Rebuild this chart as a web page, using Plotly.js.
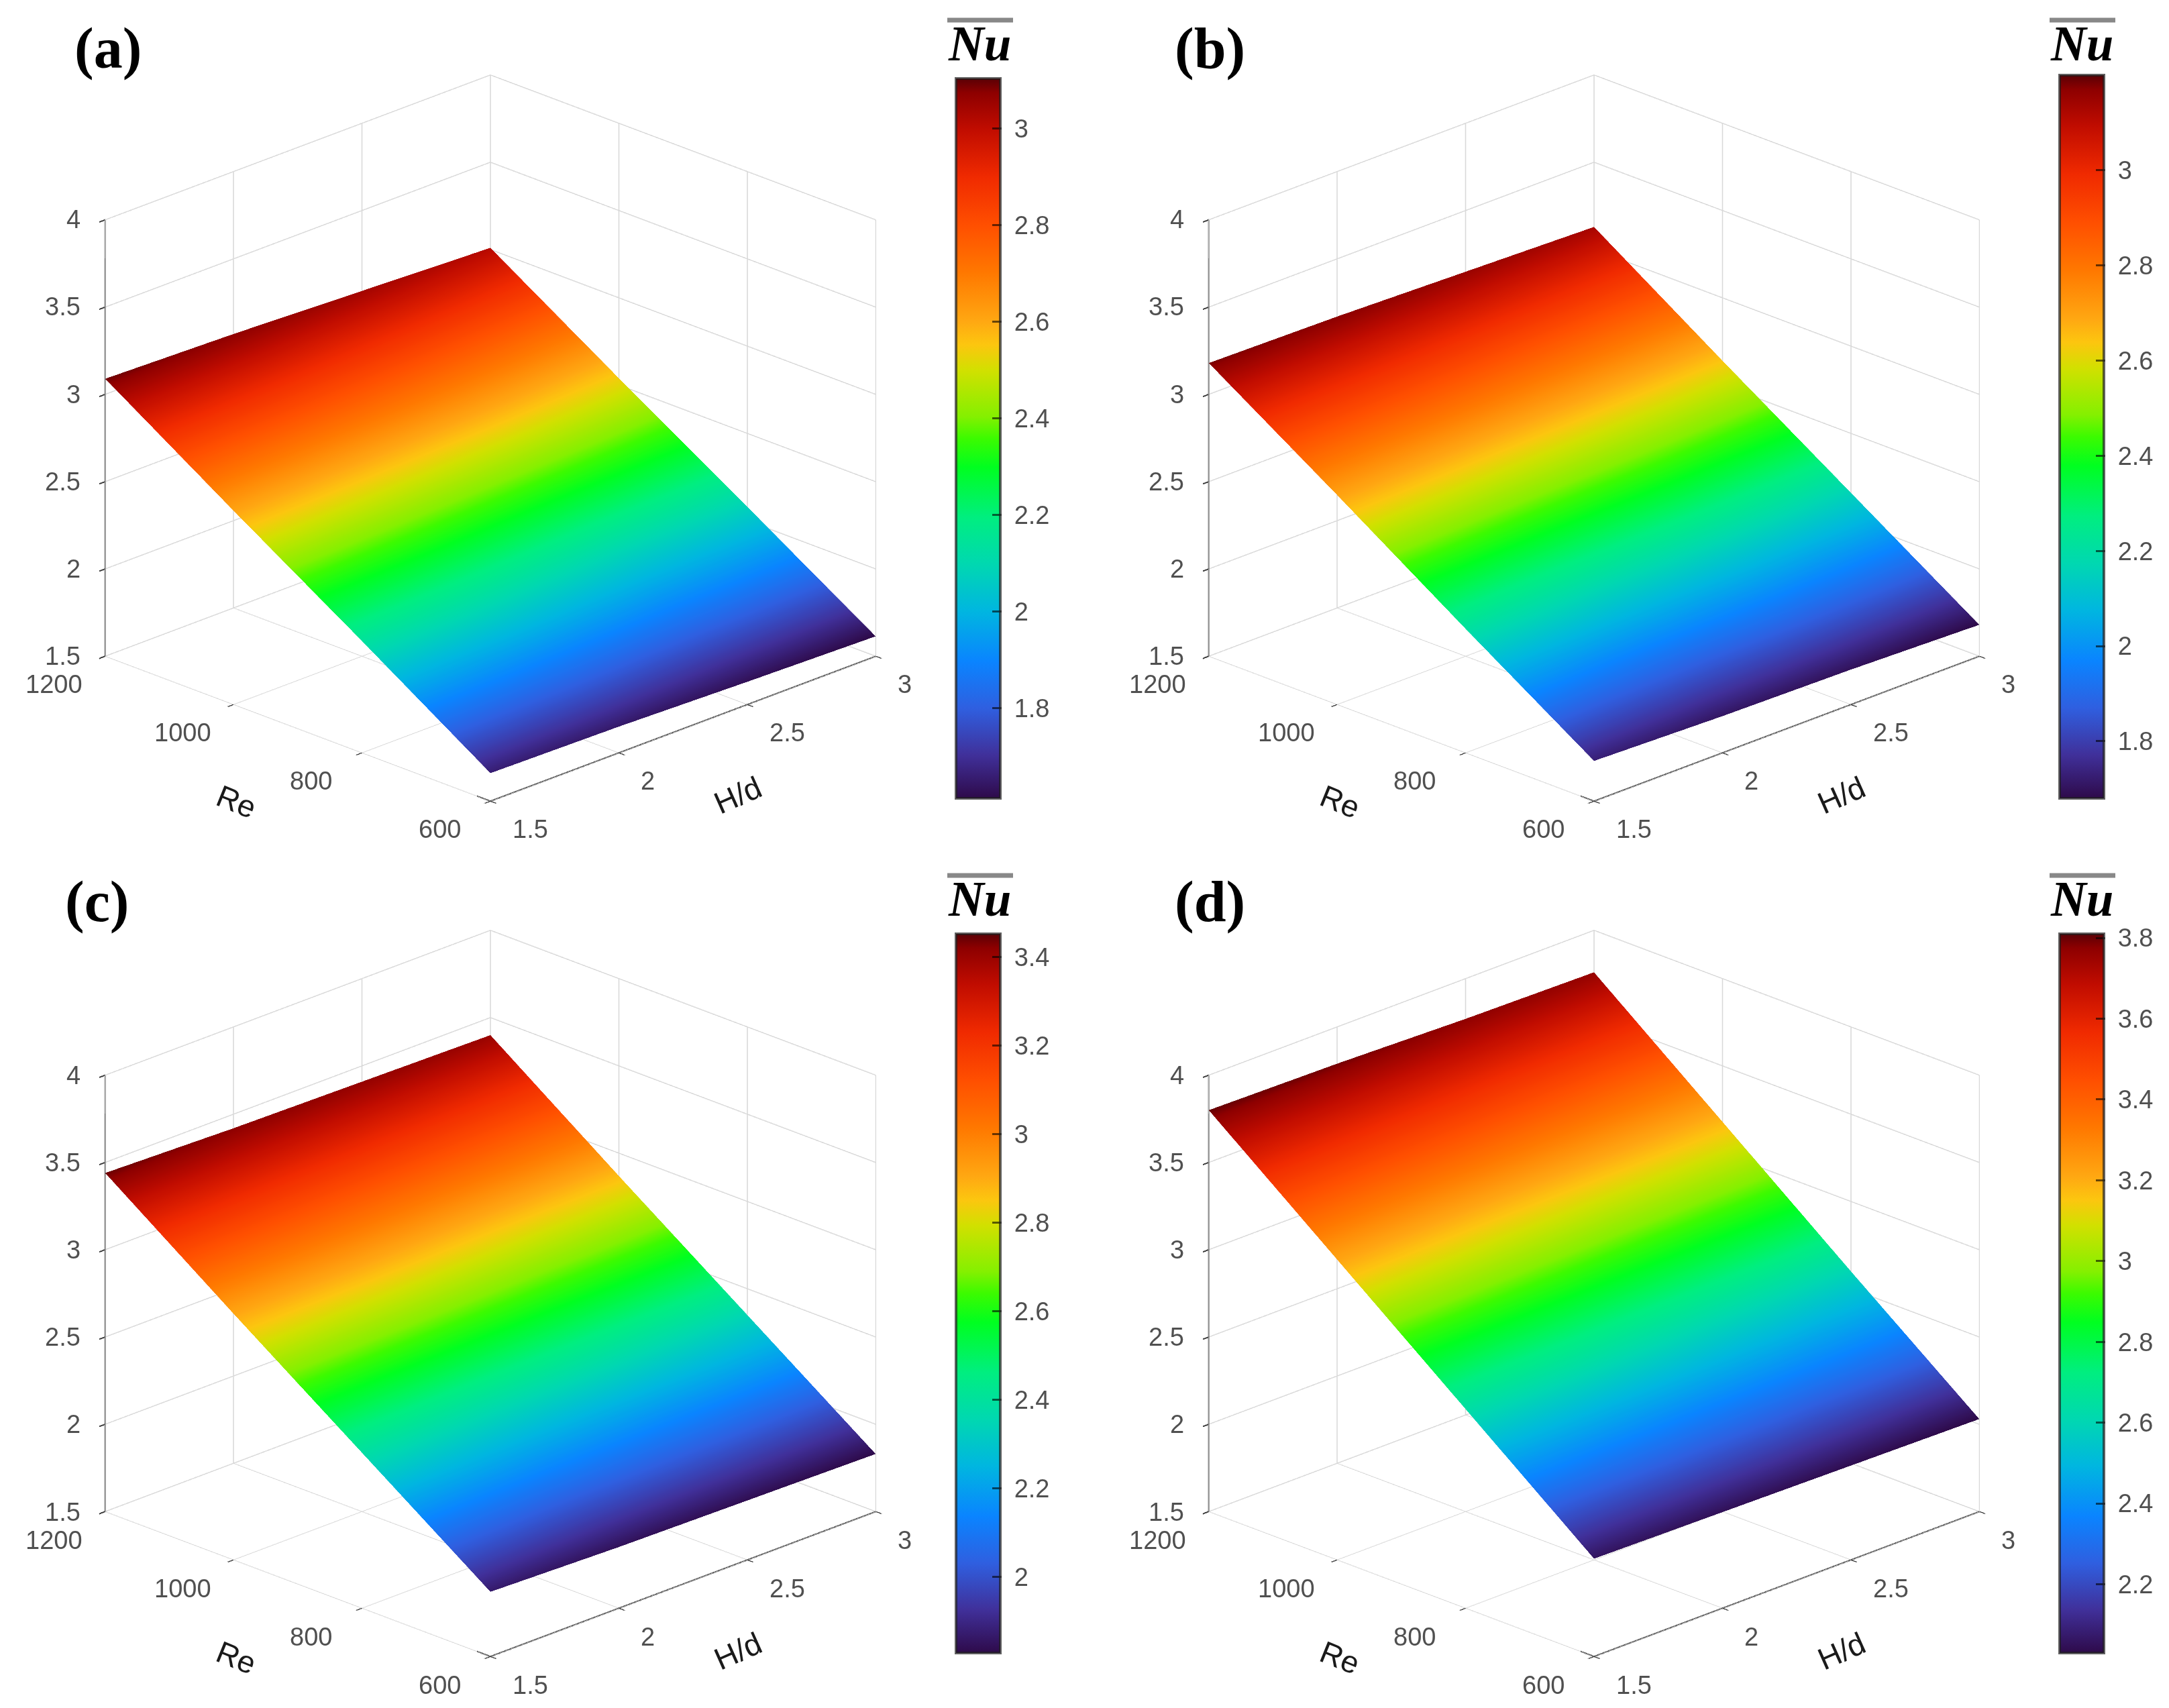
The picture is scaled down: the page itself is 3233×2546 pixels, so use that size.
<!DOCTYPE html>
<html><head><meta charset="utf-8">
<script src="https://cdn.plot.ly/plotly-3.0.1.min.js"></script>
<style>html,body{margin:0;padding:0;background:#fff}</style></head>
<body><div id="chart" style="width:3233px;height:2546px"></div>
<script>
const hdValues = [1.5, 2, 2.5, 3];
const reValues = [600, 800, 1000, 1200];
const nuA = [[1.66,1.65,1.63,1.614],[2.14,2.12,2.09,2.08],[2.61,2.59,2.57,2.54],[3.09,3.07,3.04,3.01]];
const nuB = [[1.73,1.71,1.70,1.68],[2.21,2.19,2.18,2.16],[2.70,2.68,2.66,2.64],[3.18,3.17,3.15,3.13]];
const nuC = [[1.87,1.85,1.84,1.83],[2.39,2.37,2.36,2.35],[2.91,2.90,2.88,2.87],[3.44,3.42,3.41,3.40]];
const nuD = [[2.06,2.05,2.04,2.03],[2.64,2.63,2.61,2.60],[3.22,3.20,3.19,3.18],[3.80,3.79,3.77,3.76]];
const cbRanges = [[1.614,3.103],[1.68,3.2],[1.828,3.453],[2.03,3.81]];
const cbTicks = [[1.8,2,2.2,2.4,2.6,2.8,3],[1.8,2,2.2,2.4,2.6,2.8,3],[2,2.2,2.4,2.6,2.8,3,3.2,3.4],[2.2,2.4,2.6,2.8,3,3.2,3.4,3.6,3.8]];
const panelLetters = ['(a)','(b)','(c)','(d)'];
const zTicks = [1.5,2,2.5,3,3.5,4];
const xTicks = [1.5,2,2.5,3];
const yTicks = [600,800,1000,1200];
const colorStops = [[0,'#2e0a4a'],[0.06,'#40309a'],[0.125,'#2f5fe0'],[0.19,'#0a84ff'],[0.26,'#00b6e0'],[0.326,'#00d8b0'],[0.39,'#00ee80'],[0.46,'#00ff20'],[0.50,'#3cfb00'],[0.53,'#84f000'],[0.595,'#d2e000'],[0.63,'#fcc60f'],[0.662,'#ffa812'],[0.73,'#ff7800'],[0.796,'#ff4f00'],[0.863,'#f02a00'],[0.93,'#c00c00'],[0.98,'#8e0000'],[1,'#5a0005']];

const W=3233,H=2546;
const centers=[[731,652.6],[2376,652.6],[731,1928],[2376,1928]];
const cbLeft=[1425,3070,1425,3070], cbTop=[117,112,1392,1392], cbBottom=[1190,1190,2464,2464];
const nuSets=[nuA,nuB,nuC,nuD];
const letterX=[161,1804,144,1804], letterY=[72,72,1344,1344];
const nuX=[1460,3103,1460,3103], nuY=[65,65,1340,1340];
const SW=1400,SH=1200;
const zFloorNote=1.51;

const traces=[],layout={width:W,height:H,margin:{l:0,r:0,t:0,b:0},paper_bgcolor:'#fff',showlegend:false,annotations:[],shapes:[]};
const tickFont={family:'Liberation Sans',size:38,color:'#505050'};
const titleFont={family:'Liberation Sans',size:46,color:'#1a1a1a'};
function ax(range,vals){return {range:range,tickmode:'array',tickvals:vals,ticktext:vals.map(String),title:{text:''},showticklabels:false,
 showgrid:true,gridcolor:'#d8d8d8',gridwidth:3,showline:false,ticks:'outside',ticklen:12,tickcolor:'#383838',tickwidth:4,zeroline:false,showbackground:false,showspikes:false,autorange:false};}
function sceneNotes(){
 const n=[];
 const note=(x,y,z,text,xa,xs,ys,font,angle)=>n.push({x:x,y:y,z:z,text:text,showarrow:false,xanchor:xa,yanchor:'middle',xshift:xs,yshift:ys,font:font,textangle:angle||0});
 zTicks.forEach(v=>note(1.5,1200,Math.max(v,zFloorNote),String(v),'right',-35,v===zTicks[0]?-3:0,tickFont));
 yTicks.forEach(v=>note(1.5,v,zFloorNote,String(v),'center',-76,-45,tickFont));
 xTicks.forEach(v=>note(v,600,zFloorNote,String(v),'left',31,-45,tickFont));
 note(1.5,900,zFloorNote,'Re','center',-91,-112,titleFont,22);
 note(2.25,600,zFloorNote,'H/d','center',82,-102,titleFont,-24);
 return n;
}
function edge(sid,x,y,z){return {type:'scatter3d',scene:sid,mode:'lines',x:x,y:y,z:z,line:{color:'#4a4a4a',width:4},hoverinfo:'skip',showlegend:false};}
for(let i=0;i<4;i++){
 const sid=i?('scene'+(i+1)):'scene';
 traces.push({type:'surface',scene:sid,x:hdValues,y:reValues,z:nuSets[i],cmin:cbRanges[i][0],cmax:cbRanges[i][1],colorscale:colorStops,
  lighting:{ambient:1,diffuse:0,specular:0,roughness:1,fresnel:0},hoverinfo:'skip',
  colorbar:{x:cbLeft[i]/W,xanchor:'left',y:1-cbTop[i]/H,yanchor:'top',lenmode:'pixels',len:cbBottom[i]-cbTop[i],thicknessmode:'pixels',thickness:66,xpad:0,ypad:0,
   tickmode:'array',tickvals:cbTicks[i],ticktext:cbTicks[i].map(v=>'\u00a0'+v),ticks:'inside',ticklen:14,tickwidth:3,tickcolor:'rgba(0,0,0,0.6)',tickfont:tickFont,outlinecolor:'rgba(30,30,30,0.7)',outlinewidth:4}});
 traces.push(edge(sid,[xTicks[0],xTicks[3]],[yTicks[0],yTicks[0]],[zTicks[0],zTicks[0]]));
 traces.push(edge(sid,[xTicks[0],xTicks[0]],[yTicks[0],yTicks[3]],[zTicks[0],zTicks[0]]));
 traces.push(edge(sid,[xTicks[0],xTicks[0]],[yTicks[3],yTicks[3]],[zTicks[0],zTicks[5]]));
 const a=1.2;
 layout[sid]={domain:{x:[(centers[i][0]-SW/2)/W,(centers[i][0]+SW/2)/W],y:[1-(centers[i][1]+SH/2)/H,1-(centers[i][1]-SH/2)/H]},
  aspectmode:'manual',aspectratio:{x:1.354,y:1.354,z:1.170},
  camera:{eye:{x:-a,y:-a,z:a*0.574},center:{x:0,y:0,z:0},up:{x:0,y:0,z:1},projection:{type:'orthographic'}},
  xaxis:ax([1.5,3],xTicks),yaxis:ax([600,1200],yTicks),zaxis:ax([1.5,4],zTicks),annotations:sceneNotes()};
 layout.annotations.push({xref:'paper',yref:'paper',x:letterX[i]/W,y:1-letterY[i]/H,xanchor:'center',yanchor:'middle',text:'<b>'+panelLetters[i]+'</b>',showarrow:false,font:{family:'Liberation Serif',size:86,color:'#000'}});
 layout.annotations.push({xref:'paper',yref:'paper',x:nuX[i]/W,y:1-nuY[i]/H,xanchor:'center',yanchor:'middle',text:'<b><i>Nu</i></b>',showarrow:false,font:{family:'Liberation Serif',size:73,color:'#000'}});
 layout.shapes.push({type:'line',xref:'paper',yref:'paper',x0:(nuX[i]-48)/W,x1:(nuX[i]+50)/W,y0:1-(nuY[i]-35)/H,y1:1-(nuY[i]-35)/H,line:{color:'#888',width:7}});
}
window.addEventListener('load',function(){setTimeout(function(){Plotly.newPlot('chart',traces,layout,{displayModeBar:false,plotGlPixelRatio:1});},0);});
</script></body></html>
